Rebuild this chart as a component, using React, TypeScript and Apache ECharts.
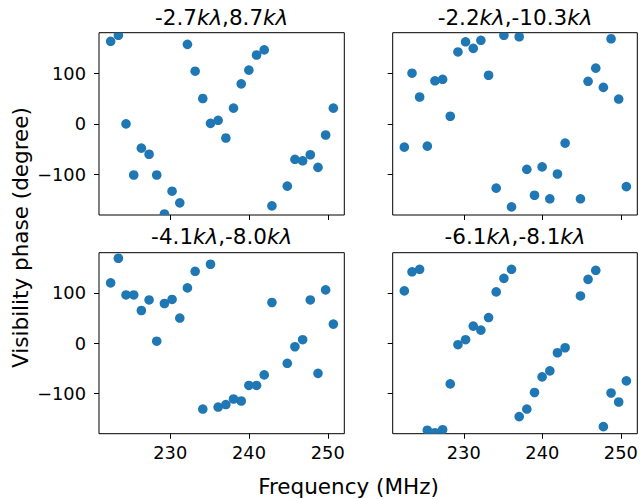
import React, { useEffect, useRef } from "react";
import * as echarts from "echarts";

const freqs = [
  222.43, 223.41, 224.38, 225.36, 226.33, 227.31, 228.28, 229.26, 230.23, 231.21,
  232.18, 233.16, 234.13, 235.11, 236.08, 237.06, 238.03, 239.01, 239.98, 240.96,
  241.93, 242.91, 243.88, 244.86, 245.83, 246.81, 247.78, 248.76, 249.73, 250.71,
];

const phaseA = [163, 175, 0, -101, -48, -60, -101, -178, -133, -156, 157, 104, 50, 1, 7, -28, 31, 79, 106, 136, 146, -162, null, -123, -70, -73, -61, -86, -22, 31];
const phaseB = [-46, 100, 53, -44, 85, 88, 15, 142, 162, 149, 165, 96, -127, 175, -164, 172, -90, -141, -85, -148, -99, -38, null, -148, 84, 110, 72, 168, 49, -124];
const phaseC = [120, 169, 96, 96, 65, 86, 4, 79, 87, 50, 110, 143, -131, 157, -127, -122, -111, -115, -84, -84, -63, 81, null, -40, -7, 7, 86, -60, 106, 38];
const phaseD = [104, 142, 147, -173, -178, -172, -81, -3, 7, 34, 26, 51, 102, 129, 147, -146, -131, -98, -67, -55, -19, -9, null, 94, 127, 145, -166, -99, -117, -75];

const titles = [
  "-2.7{i|kλ},8.7{i|kλ}",
  "-2.2{i|kλ},-10.3{i|kλ}",
  "-4.1{i|kλ},-8.0{i|kλ}",
  "-6.1{i|kλ},-8.1{i|kλ}",
];

const xTicks = [230, 240, 250];
const yTicks = [-100, 0, 100];
const xMin = 220.95;
const xMax = 252.1;
const yMin = -180;
const yMax = 180;

const FONT = "DejaVu Sans";
const BLUE = "#1f77b4";

export default function App() {
  const ref = useRef<HTMLDivElement>(null);

  useEffect(() => {
    document.body.style.margin = "0";
    if (!ref.current) return;
    const chart = echarts.init(ref.current, undefined, { renderer: "svg" });

    const grids = [
      { left: 99, top: 32.7, width: 245.3, height: 182.3 },
      { left: 392.7, top: 32.7, width: 244.6, height: 182.3 },
      { left: 99, top: 252.7, width: 245.3, height: 181 },
      { left: 392.7, top: 252.7, width: 244.6, height: 181 },
    ];
    const phases = [phaseA, phaseB, phaseC, phaseD];

    const fmt = (v: number) => (v < 0 ? "\u2212" + Math.abs(v) : String(v));

    const xAxis = grids.map((_, i) => ({
      type: "value",
      gridIndex: i,
      position: "bottom",
      min: xMin,
      max: xMax,
      splitLine: { show: false },
      axisLine: { show: false, onZero: false },
      axisTick: {
        show: true,
        length: 5,
        inside: false,
        customValues: xTicks,
        lineStyle: { color: "#000", width: 1 },
      },
      axisLabel: {
        show: i >= 2,
        customValues: xTicks,
        margin: 10,
        fontFamily: FONT,
        fontSize: 17.8,
        color: "#000",
        formatter: (v: number) => String(v),
      },
    }));

    const yAxis = grids.map((_, i) => ({
      type: "value",
      gridIndex: i,
      position: "left",
      min: yMin,
      max: yMax,
      splitLine: { show: false },
      axisLine: { show: false, onZero: false },
      axisTick: {
        show: true,
        length: 5,
        inside: false,
        customValues: yTicks,
        lineStyle: { color: "#000", width: 1 },
      },
      axisLabel: {
        show: i % 2 === 0,
        customValues: yTicks,
        margin: 13,
        fontFamily: FONT,
        fontSize: 17.8,
        color: "#000",
        formatter: fmt,
      },
    }));

    const series = phases.map((ph, i) => ({
      type: "custom",
      xAxisIndex: i,
      yAxisIndex: i,
      clip: true,
      encode: { x: 0, y: 1 },
      data: freqs
        .map((f, k) => [f, ph[k]])
        .filter((d) => d[1] !== null && d[1] !== undefined),
      renderItem: (params: any, api: any) => {
        const p = api.coord([api.value(0), api.value(1)]);
        return {
          type: "circle",
          shape: { cx: p[0], cy: p[1], r: 4.8 },
          style: { fill: BLUE, stroke: null },
        };
      },
    }));

    const titleGraphics = grids.map((g, i) => ({
      type: "text",
      x: g.left + g.width / 2,
      y: i < 2 ? 17.6 : 236.6,
      style: {
        text: titles[i],
        fontFamily: FONT,
        fontSize: 21.5,
        fill: "#000",
        textAlign: "center",
        textVerticalAlign: "middle",
        rich: {
          i: { fontFamily: FONT, fontSize: 21.5, fontStyle: "italic", fill: "#000" },
        },
      },
    }));

    chart.setOption({
      animation: false,
      backgroundColor: "#fff",
      grid: grids.map((g) => ({
        ...g,
        show: true,
        borderColor: "#000",
        borderWidth: 1,
        backgroundColor: "transparent",
        containLabel: false,
      })),
      xAxis,
      yAxis,
      series,
      graphic: [
        ...titleGraphics,
        {
          type: "text",
          x: 20,
          y: 237.5,
          rotation: Math.PI / 2,
          style: {
            text: "Visibility phase (degree)",
            fontFamily: FONT,
            fontSize: 21.5,
            fill: "#000",
            textAlign: "center",
            textVerticalAlign: "middle",
          },
        },
        {
          type: "text",
          x: 348.5,
          y: 486.6,
          style: {
            text: "Frequency (MHz)",
            fontFamily: FONT,
            fontSize: 21.5,
            fill: "#000",
            textAlign: "center",
            textVerticalAlign: "middle",
          },
        },
      ],
    });

    return () => chart.dispose();
  }, []);

  return (
    <div
      ref={ref}
      style={{ position: "fixed", left: 0, top: 0, width: 641, height: 499 }}
    />
  );
}
